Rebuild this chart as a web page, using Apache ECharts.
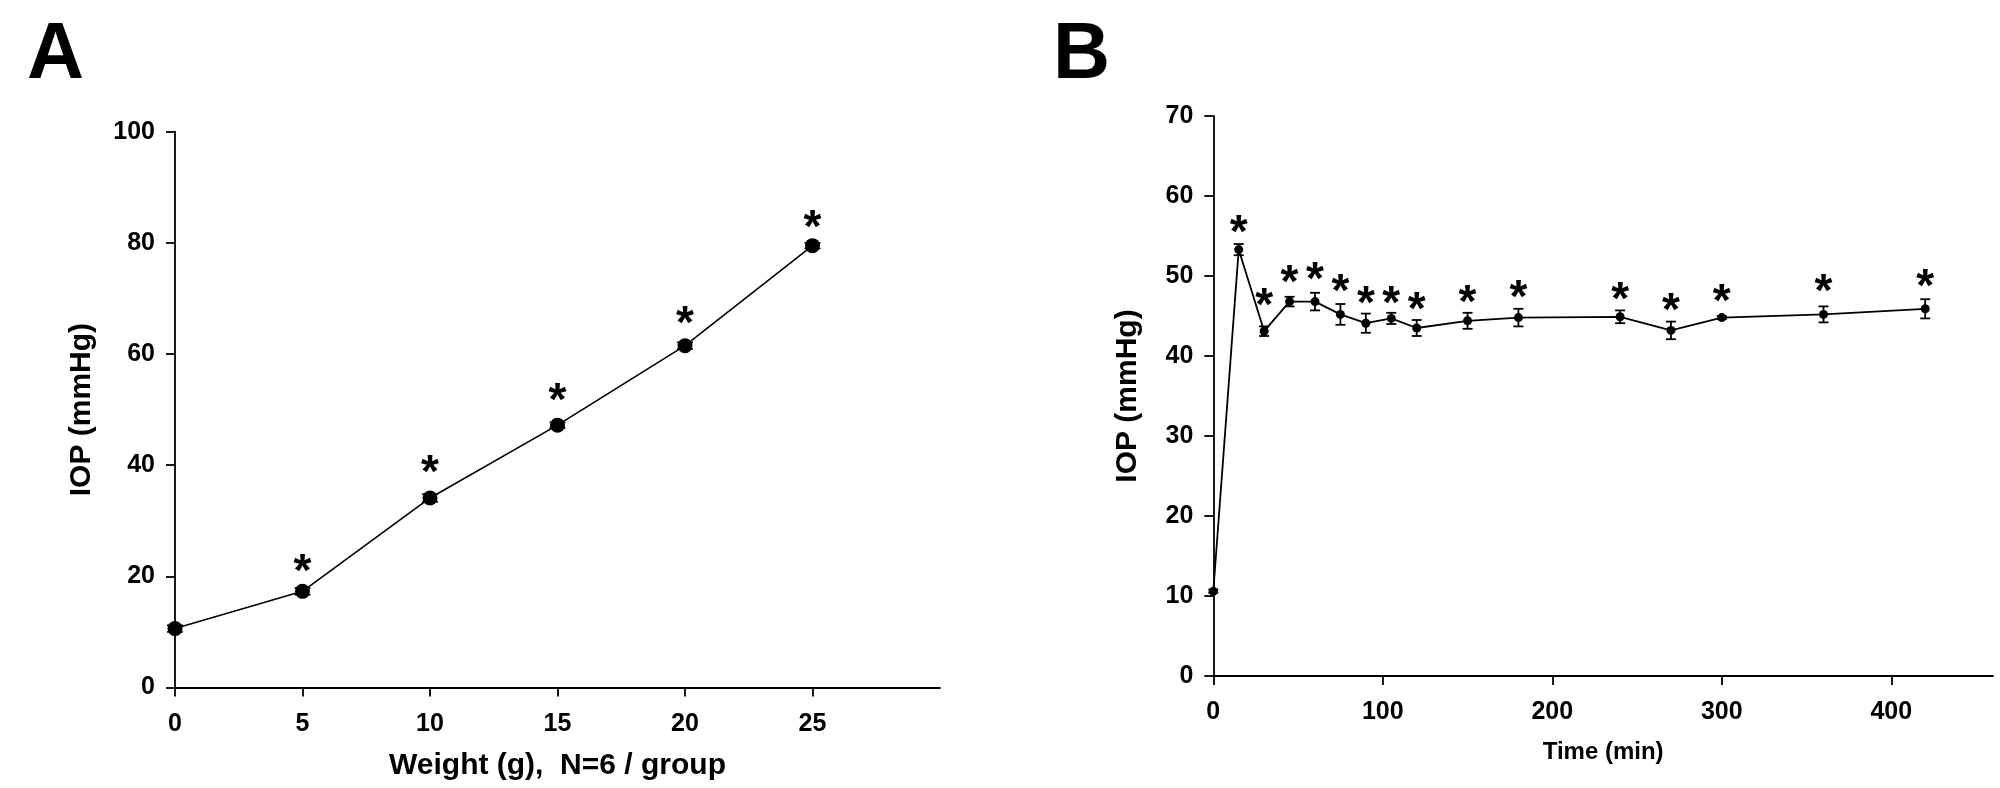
<!DOCTYPE html>
<html>
<head>
<meta charset="utf-8">
<script src="https://cdn.jsdelivr.net/npm/echarts@6/dist/echarts.min.js"></script>
<style>
html,body{margin:0;padding:0;background:#fff;}
#chart{width:2000px;height:788px;}
</style>
</head>
<body>
<div id="chart"></div>
<script>
// ---- Panel A data ----
const weightG = [0, 5, 10, 15, 20, 25];
const iopWeight = [10.6, 17.3, 34.1, 47.2, 61.5, 79.5];
const iopWeightErr = [0.6, 0.6, 0.7, 0.5, 0.6, 0.5];
const weightStarX = [5, 10, 15, 20, 25];
const weightStarY = [22.2, 40.0, 53.0, 66.7, 84.1];
const weightTicks = [0, 5, 10, 15, 20, 25];

// ---- Panel B data ----
const timeMin = [0, 15, 30, 45, 60, 75, 90, 105, 120, 150, 180, 240, 270, 300, 360, 420];
const iopTime = [10.6, 53.3, 43.1, 46.8, 46.8, 45.2, 44.1, 44.7, 43.5, 44.4, 44.8, 44.9, 43.2, 44.8, 45.2, 45.9];
const iopTimeErr = [0.2, 0.7, 0.6, 0.6, 1.1, 1.3, 1.2, 0.7, 1.0, 1.0, 1.1, 0.8, 1.1, 0.2, 1.0, 1.2];
const timeStarX = [15, 30, 45, 60, 75, 90, 105, 120, 150, 180, 240, 270, 300, 360, 420];
const timeStarY = [56.3, 47.2, 50.1, 50.4, 49.0, 47.4, 47.5, 46.7, 47.6, 48.2, 48.0, 46.6, 47.7, 49.0, 49.6];
const timeTicks = [0, 100, 200, 300, 400];

const FONT = "'Liberation Sans', Arial, Helvetica, sans-serif";

function pairs(xs, ys) { return xs.map((x, i) => [x, ys[i]]); }
function triples(xs, ys, es) { return xs.map((x, i) => [x, ys[i], es[i]]); }

function errRender(capHalf, lw) {
  return function (params, api) {
    const x = api.value(0), y = api.value(1), e = api.value(2);
    const top = api.coord([x, y + e]);
    const bot = api.coord([x, y - e]);
    const st = { stroke: '#000', lineWidth: lw };
    return {
      type: 'group',
      children: [
        { type: 'line', shape: { x1: top[0], y1: top[1], x2: bot[0], y2: bot[1] }, style: st },
        { type: 'line', shape: { x1: top[0] - capHalf, y1: top[1], x2: top[0] + capHalf, y2: top[1] }, style: st },
        { type: 'line', shape: { x1: bot[0] - capHalf, y1: bot[1], x2: bot[0] + capHalf, y2: bot[1] }, style: st }
      ]
    };
  };
}

function starRender(fontSize, dy) {
  return function (params, api) {
    const p = api.coord([api.value(0), api.value(1)]);
    return {
      type: 'text',
      style: {
        x: p[0], y: p[1] + dy, text: '*',
        font: 'bold ' + fontSize + 'px ' + FONT,
        fill: '#000', align: 'center', verticalAlign: 'middle'
      }
    };
  };
}

const axisLineStyle = { show: true, lineStyle: { color: '#000', width: 1.8 } };
const tickStyle = { show: true, inside: false, length: 9, lineStyle: { color: '#000', width: 1.8 } };
const labelStyle = { color: '#000', fontFamily: FONT, fontWeight: 'bold', fontSize: 25 };

const chart = echarts.init(document.getElementById('chart'), null, { renderer: 'canvas' });

chart.setOption({
  backgroundColor: '#fff',
  animation: false,
  title: [
    { text: 'A', left: 22, top: 12, textStyle: { fontFamily: FONT, fontWeight: 'bold', fontSize: 79, color: '#000' } },
    { text: 'B', left: 1048, top: 12, textStyle: { fontFamily: FONT, fontWeight: 'bold', fontSize: 79, color: '#000' } }
  ],
  grid: [
    { left: 175, top: 131.7, width: 765, height: 555.8 },
    { left: 1213.3, top: 116, width: 779.7, height: 560 }
  ],
  xAxis: [
    {
      gridIndex: 0, type: 'value', min: 0, max: 30, interval: 5,
      name: 'Weight (g),  N=6 / group', nameLocation: 'middle', nameGap: 63,
      nameTextStyle: { color: '#000', fontFamily: FONT, fontWeight: 'bold', fontSize: 30 },
      axisLine: axisLineStyle,
      axisTick: Object.assign({}, tickStyle, { customValues: weightTicks }),
      axisLabel: Object.assign({}, labelStyle, { margin: 24, customValues: weightTicks }),
      splitLine: { show: false }
    },
    {
      gridIndex: 1, type: 'value', min: 0, max: 460, interval: 100,
      name: 'Time (min)', nameLocation: 'middle', nameGap: 64,
      nameTextStyle: { color: '#000', fontFamily: FONT, fontWeight: 'bold', fontSize: 24 },
      axisLine: axisLineStyle,
      axisTick: Object.assign({}, tickStyle, { customValues: timeTicks }),
      axisLabel: Object.assign({}, labelStyle, { margin: 24, customValues: timeTicks }),
      splitLine: { show: false }
    }
  ],
  yAxis: [
    {
      gridIndex: 0, type: 'value', min: 0, max: 100, interval: 20,
      name: 'IOP (mmHg)', nameLocation: 'middle', nameGap: 78,
      nameTextStyle: { color: '#000', fontFamily: FONT, fontWeight: 'bold', fontSize: 30 },
      axisLine: axisLineStyle, axisTick: tickStyle,
      axisLabel: Object.assign({}, labelStyle, { margin: 20 }),
      splitLine: { show: false }
    },
    {
      gridIndex: 1, type: 'value', min: 0, max: 70, interval: 10,
      name: 'IOP (mmHg)', nameLocation: 'middle', nameGap: 71,
      nameTextStyle: { color: '#000', fontFamily: FONT, fontWeight: 'bold', fontSize: 30 },
      axisLine: axisLineStyle, axisTick: tickStyle,
      axisLabel: Object.assign({}, labelStyle, { margin: 20 }),
      splitLine: { show: false }
    }
  ],
  series: [
    {
      type: 'line', xAxisIndex: 0, yAxisIndex: 0, data: pairs(weightG, iopWeight),
      symbol: 'circle', symbolSize: 15, itemStyle: { color: '#000' },
      lineStyle: { color: '#000', width: 1.6 }, z: 3
    },
    {
      type: 'custom', xAxisIndex: 0, yAxisIndex: 0, data: triples(weightG, iopWeight, iopWeightErr),
      renderItem: errRender(8, 1.6), z: 2
    },
    {
      type: 'custom', xAxisIndex: 0, yAxisIndex: 0, data: pairs(weightStarX, weightStarY),
      renderItem: starRender(46, 9), z: 4
    },
    {
      type: 'line', xAxisIndex: 1, yAxisIndex: 1, data: pairs(timeMin, iopTime),
      symbol: 'circle', symbolSize: 9, itemStyle: { color: '#000' },
      lineStyle: { color: '#000', width: 1.8 }, z: 3
    },
    {
      type: 'custom', xAxisIndex: 1, yAxisIndex: 1, data: triples(timeMin, iopTime, iopTimeErr),
      renderItem: errRender(5, 1.8), z: 2
    },
    {
      type: 'custom', xAxisIndex: 1, yAxisIndex: 1, data: pairs(timeStarX, timeStarY),
      renderItem: starRender(46, 9), z: 4
    }
  ]
});
</script>
</body>
</html>
